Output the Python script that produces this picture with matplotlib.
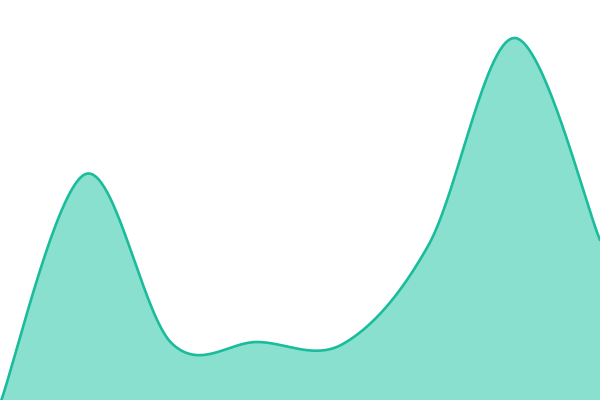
import numpy as np
import matplotlib
matplotlib.use("Agg")
import matplotlib.pyplot as plt

# data points (evenly spaced)
x_idx = [0, 1, 2, 3, 4, 5, 6, 7]
values = [-4, 226, 57, 58, 56, 155, 362, 160]

line_color = "#1abc9c"
fill_color = "#8ae0cf"


# Catmull-Rom curve through the points (like d3 curveCardinal)
def catmull_rom(xs, ys, steps=60):
    pts = np.column_stack([xs, ys]).astype(float)
    # duplicate the end points so the curve reaches them
    ext = np.vstack([pts[0], pts, pts[-1]])
    out = []
    t = np.linspace(0, 1, steps)[:, None]
    for i in range(1, len(ext) - 2):
        p0, p1, p2, p3 = ext[i - 1], ext[i], ext[i + 1], ext[i + 2]
        c1 = p1 + (p2 - p0) / 6
        c2 = p2 - (p3 - p1) / 6
        seg = ((1 - t) ** 3 * p1 + 3 * (1 - t) ** 2 * t * c1
               + 3 * (1 - t) * t ** 2 * c2 + t ** 3 * p2)
        out.append(seg if i == 1 else seg[1:])
    out = np.vstack(out)
    return out[:, 0], out[:, 1]


xx, yy = catmull_rom(x_idx, values)

fig = plt.figure(figsize=(6, 4), dpi=100)
ax = fig.add_axes([0, 0, 1, 1])
ax.fill_between(xx, yy, -50, color=fill_color, lw=0)
ax.plot(xx, yy, color=line_color, lw=1.9, solid_capstyle="round")
ax.set_xlim(0, 7)
ax.set_ylim(0, 400)
ax.axis("off")

fig.savefig("out.png", dpi=100)
